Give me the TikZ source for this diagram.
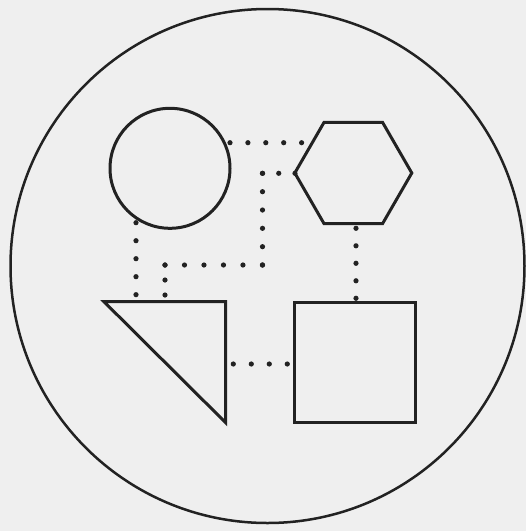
\documentclass[tikz,border=0pt]{standalone}
\usetikzlibrary{shapes.geometric}
\definecolor{bgc}{HTML}{EFEFEF}
\definecolor{ink}{HTML}{222222}
\begin{document}
\begin{tikzpicture}[x=1pt,y=-1pt,
  shapeline/.style={draw=ink, line width=3pt, inner sep=0pt, outer sep=0pt},
  dotline/.style={draw=ink, line width=5.2pt, line cap=round, dash pattern=on 0pt off #1}]
\fill[bgc] (0,0) rectangle (526,531);
\useasboundingbox (0,0) rectangle (526,531);
% outer ring
\node[draw=ink, line width=2.5pt, circle, minimum size=514pt, inner sep=0pt] (outer) at (267.5,266) {};
% shapes
\node[shapeline, circle, minimum size=120pt] (circ) at (170,168.3) {};
\node[shapeline, regular polygon, regular polygon sides=6, minimum size=117pt] (hex) at (353.3,173) {};
\node[shapeline, rectangle, minimum width=121pt, minimum height=120.3pt] (sq) at (354.8,362.2) {};
\draw[shapeline, line join=miter] (104,301.7) coordinate (t1) -- (225.7,301.7) coordinate (t2) -- (225.7,422.7) coordinate (t3) -- cycle;
% connector end points
\coordinate (a1) at (230,142.7);
\coordinate (a2) at (301.7,142.7);
\coordinate (b1) at (165,295);
\coordinate (b2) at (165,265);
\coordinate (b3) at (262.5,265);
\coordinate (b4) at (262.5,173.3);
\coordinate (b5) at (295,173.3);
\coordinate (c1) at (136,222.7);
\coordinate (c2) at (136,294.7);
\coordinate (d1) at (356,228.3);
\coordinate (d2) at (356,298.3);
\coordinate (e1) at (233.3,364);
\coordinate (e2) at (287.3,364);
% dotted connectors
\draw[dotline=17.9pt] (a1) -- (a2);
\draw[dotline=14.99pt] (b1) -- (b2);
\draw[dotline=19.49pt] (b2) -- (b3);
\draw[dotline=18.33pt] (b3) -- (b4);
\draw[dotline=16.24pt] (b4) -- (b5);
\draw[dotline=17.99pt] (c1) -- (c2);
\draw[dotline=17.49pt] (d1) -- (d2);
\draw[dotline=17.99pt] (e1) -- (e2);
\end{tikzpicture}
\end{document}
